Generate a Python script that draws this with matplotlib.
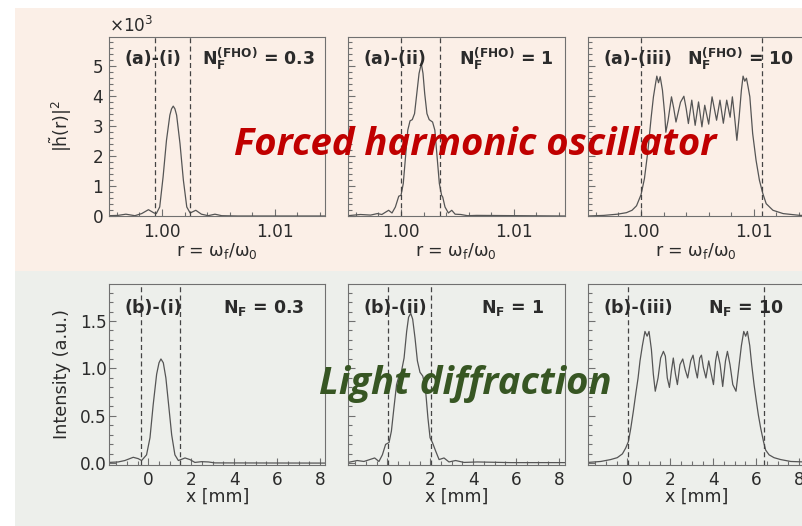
import matplotlib
matplotlib.use('Agg')
import matplotlib.pyplot as plt
from matplotlib.patches import Rectangle
from matplotlib.ticker import MultipleLocator, FormatStrFormatter

# Forced harmonic oscillator spectra |h(r)|^2 versus r = w_f / w_0
r_03 = [0.9953, 0.9961, 0.9968, 0.9976, 0.9982, 0.9988, 0.9993, 0.9995, 0.9998, 1.0001,
        1.0004, 1.0007, 1.00085, 1.0010, 1.00115, 1.0013, 1.0016, 1.0019, 1.0022, 1.0025,
        1.0030, 1.0035, 1.0041, 1.0047, 1.0053, 1.0067, 1.0145]
h_03 = [20, 30, 70, 20, 90, 220, 110, 90, 310, 1310,
        2530, 3370, 3580, 3670, 3580, 3370, 2420, 1200, 310, 110,
        200, 70, 20, 70, 20, 10, 10]

r_1 = [0.9953, 0.9964, 0.9973, 0.9979, 0.9983, 0.9989, 0.9992, 0.9995, 0.9998, 1.0000,
       1.0002, 1.0004, 1.0006, 1.0008, 1.0010, 1.0012, 1.0014, 1.0016, 1.0018, 1.00195,
       1.0021, 1.0023, 1.0025, 1.0028, 1.0030, 1.0032, 1.0034, 1.0036, 1.0037, 1.0039,
       1.0042, 1.0045, 1.0048, 1.0053, 1.0059, 1.0067, 1.0145]
h_1 = [20, 60, 40, 90, 60, 200, 110, 310, 670, 700,
       1090, 1980, 2870, 3180, 3220, 3420, 4090, 4760, 5090, 4760,
       4090, 3420, 3220, 3140, 2870, 1980, 1090, 700, 640, 310,
       110, 200, 70, 60, 20, 30, 10]

r_10 = [0.9953, 0.9967, 0.9979, 0.9987, 0.9992, 0.9996, 1.0000, 1.0003, 1.0006, 1.0009,
        1.0011, 1.0013, 1.0014, 1.00155, 1.0017, 1.0019, 1.0021, 1.0022, 1.0024, 1.0027,
        1.0029, 1.0031, 1.0035, 1.0038, 1.0040, 1.0042, 1.0045, 1.0048, 1.0051, 1.0054,
        1.00565, 1.0060, 1.0063, 1.0067, 1.0070, 1.0073, 1.0076, 1.0079, 1.0081, 1.0083,
        1.0085, 1.0087, 1.0089, 1.00905, 1.0092, 1.00935, 1.0095, 1.00965, 1.0099, 1.0102,
        1.0105, 1.0108, 1.0111, 1.0117, 1.0126, 1.0141, 1.0145]
h_10 = [10, 30, 70, 120, 200, 350, 720, 1250, 2150, 3300,
        3980, 4450, 4670, 4450, 4650, 4200, 3400, 2800, 3200, 3980,
        3600, 3140, 3800, 4000, 3600, 3090, 3870, 3030, 3810, 2980,
        3700, 3070, 3980, 3200, 3870, 3100, 3870, 3300, 3980, 3300,
        2530, 3300, 4200, 4670, 4500, 4600, 4300, 3980, 2760, 1870,
        1200, 760, 420, 200, 90, 30, 30]

# Light diffraction intensity versus x [mm]
x_03 = [-1.83, -1.40, -1.09, -0.70, -0.47, -0.31, -0.08, 0.08, 0.23, 0.39,
        0.50, 0.59, 0.70, 0.82, 0.96, 1.09, 1.24, 1.40, 1.52, 1.71,
        1.94, 2.17, 2.48, 2.80, 3.10, 8.25]
I_03 = [0.010, 0.015, 0.030, 0.064, 0.050, 0.030, 0.090, 0.270, 0.620, 0.940,
        1.060, 1.100, 1.060, 0.900, 0.590, 0.300, 0.090, 0.030, 0.040, 0.057,
        0.040, 0.010, 0.018, 0.015, 0.005, 0.003]

x_1 = [-1.83, -1.40, -1.09, -0.59, -0.39, -0.23, -0.08, 0.08, 0.19, 0.31,
       0.43, 0.54, 0.65, 0.78, 0.90, 0.99, 1.09, 1.18, 1.29, 1.40,
       1.52, 1.65, 1.77, 1.89, 1.99, 2.10, 2.25, 2.41, 2.64, 2.87,
       3.18, 3.57, 4.19, 5.75, 8.25]
I_1 = [0.010, 0.030, 0.020, 0.057, 0.020, 0.090, 0.200, 0.220, 0.340, 0.590,
       0.830, 0.920, 0.960, 1.110, 1.390, 1.540, 1.580, 1.520, 1.320, 1.080,
       0.960, 0.920, 0.800, 0.480, 0.270, 0.220, 0.130, 0.040, 0.057, 0.015,
       0.030, 0.010, 0.015, 0.008, 0.008]

x_10 = [-1.83, -1.24, -0.78, -0.47, -0.23, -0.08, 0.05, 0.16, 0.28, 0.39,
        0.50, 0.59, 0.70, 0.82, 0.92, 1.01, 1.12, 1.21, 1.30, 1.43,
        1.55, 1.68, 1.77, 1.86, 1.96, 2.05, 2.14, 2.24, 2.33, 2.45,
        2.58, 2.69, 2.81, 2.95, 3.06, 3.17, 3.26, 3.37, 3.45, 3.54,
        3.66, 3.79, 3.91, 4.01, 4.11, 4.19, 4.32, 4.44, 4.57, 4.66,
        4.78, 4.91, 5.06, 5.19, 5.31, 5.42, 5.51, 5.59, 5.70, 5.79,
        5.90, 6.01, 6.10, 6.21, 6.34, 6.44, 6.60, 6.83, 7.14, 7.61, 8.25]
I_10 = [0.010, 0.020, 0.040, 0.060, 0.100, 0.160, 0.230, 0.370, 0.550, 0.730,
        0.900, 1.080, 1.240, 1.390, 1.340, 1.390, 1.200, 0.940, 0.760, 0.900,
        1.110, 1.180, 1.130, 0.900, 0.800, 0.970, 1.110, 0.940, 0.830, 1.040,
        1.100, 0.990, 0.900, 1.080, 1.140, 0.990, 0.900, 1.110, 1.140, 1.010,
        0.900, 1.080, 0.940, 0.830, 1.080, 1.180, 1.040, 0.810, 1.080, 1.180,
        1.040, 0.830, 0.760, 1.010, 1.240, 1.390, 1.340, 1.390, 1.240, 1.040,
        0.830, 0.650, 0.510, 0.370, 0.230, 0.140, 0.090, 0.060, 0.040, 0.020, 0.015]

# dashed band edges and panel annotations
fho_bands = [(0.9994, 1.0025), (1.0000, 1.0035), (1.0000, 1.0107)]
light_bands = [(-0.35, 1.47), (0.05, 2.05), (0.05, 6.35)]
roman = ['i', 'ii', 'iii']
nf_labels = ['0.3', '1', '10']

fho_curves = [(r_03, h_03), (r_1, h_1), (r_10, h_10)]
light_curves = [(x_03, I_03), (x_1, I_1), (x_10, I_10)]

TXT = '#2b2b2b'
LINE = '#555555'
SPINE = '#707070'

fig = plt.figure(figsize=(8.03, 5.26), dpi=100)
fig.patches.append(Rectangle((15 / 803, 255 / 526), 1, 263 / 526, transform=fig.transFigure,
                             facecolor='#fbefe7', edgecolor='none', zorder=-10))
fig.patches.append(Rectangle((15 / 803, 0), 1, 255 / 526, transform=fig.transFigure,
                             facecolor='#edefeb', edgecolor='none', zorder=-10))

lefts = [0.1357, 0.4334, 0.7323]
width = 0.2696


def style_axes(ax):
    ax.set_facecolor('none')
    for sp in ax.spines.values():
        sp.set_color(SPINE)
        sp.set_linewidth(0.8)
    ax.tick_params(which='both', direction='in', top=False, right=False,
                   color=SPINE, labelcolor=TXT, labelsize=12.2, width=0.8)
    ax.tick_params(which='major', length=5)
    ax.tick_params(which='minor', length=2.8)


for i in range(3):
    # top row: forced harmonic oscillator
    ax = fig.add_axes([lefts[i], 0.5888, width, 0.3418])
    style_axes(ax)
    r, h = fho_curves[i]
    ax.plot(r, h, color=LINE, lw=0.9)
    for edge in fho_bands[i]:
        ax.axvline(edge, color='#444444', lw=0.9, dashes=(4, 2.6))
    ax.set_xlim(0.9953, 1.0145)
    ax.set_ylim(0, 5990)
    ax.xaxis.set_major_locator(MultipleLocator(0.01))
    ax.xaxis.set_minor_locator(MultipleLocator(0.002))
    ax.xaxis.set_major_formatter(FormatStrFormatter('%.2f'))
    ax.yaxis.set_major_locator(MultipleLocator(1000))
    ax.yaxis.set_minor_locator(MultipleLocator(200))
    ax.tick_params(axis='x', pad=5)
    ax.set_xlabel(r'r = $\mathrm{\omega}_{\rm f}/\mathrm{\omega}_0$', fontsize=12.5,
                  color=TXT, labelpad=0)
    if i == 0:
        ax.ticklabel_format(axis='y', style='sci', scilimits=(3, 3), useMathText=True)
        ax.yaxis.get_offset_text().set_fontsize(12.2)
        ax.yaxis.get_offset_text().set_color(TXT)
        ax.set_ylabel(r'$|\tilde{\rm h}({\rm r})|^2$', fontsize=12.5, color=TXT)
        ax.yaxis.set_label_coords(-0.16, 0.5)
        ax.tick_params(axis='y', pad=4)
    else:
        ax.tick_params(axis='y', labelleft=False)
    ax.text(0.072, 0.845, '(a)-(%s)' % roman[i], transform=ax.transAxes,
            fontsize=12.5, fontweight='bold', color=TXT, va='baseline', ha='left')
    ax.text(0.952, 0.845, r'$\mathbf{N_F^{(FHO)}}$ = ' + nf_labels[i], transform=ax.transAxes,
            fontsize=12.5, fontweight='bold', color=TXT, va='baseline', ha='right')

    # bottom row: light diffraction
    ax = fig.add_axes([lefts[i], 0.1169, width, 0.3432])
    style_axes(ax)
    x, inten = light_curves[i]
    ax.plot(x, inten, color=LINE, lw=0.9)
    for edge in light_bands[i]:
        ax.axvline(edge, color='#444444', lw=0.9, dashes=(4, 2.6))
    ax.set_xlim(-1.83, 8.25)
    ax.set_ylim(-0.012, 1.89)
    ax.xaxis.set_major_locator(MultipleLocator(2))
    ax.xaxis.set_minor_locator(MultipleLocator(0.5))
    ax.yaxis.set_major_locator(MultipleLocator(0.5))
    ax.yaxis.set_minor_locator(MultipleLocator(0.1))
    ax.yaxis.set_major_formatter(FormatStrFormatter('%.1f'))
    ax.tick_params(axis='x', pad=5)
    ax.set_xlabel('x [mm]', fontsize=12.5, color=TXT, labelpad=-1)
    if i == 0:
        ax.set_ylabel('Intensity (a.u.)', fontsize=12.8, color=TXT)
        ax.yaxis.set_label_coords(-0.175, 0.5)
        ax.tick_params(axis='y', pad=1.5)
    else:
        ax.tick_params(axis='y', labelleft=False)
    ax.text(0.072, 0.838, '(b)-(%s)' % roman[i], transform=ax.transAxes,
            fontsize=12.5, fontweight='bold', color=TXT, va='baseline', ha='left')
    ax.text(0.905, 0.838, r'$\mathbf{N_F}$ = ' + nf_labels[i], transform=ax.transAxes,
            fontsize=12.5, fontweight='bold', color=TXT, va='baseline', ha='right')

fig.text(0.5915, 0.7053, 'Forced harmonic oscillator', fontsize=27.5, family='Open Sans',
         weight='bold', style='italic', color='#c00000', ha='center', va='baseline')
fig.text(0.579, 0.251, 'Light diffraction', fontsize=27.5, family='Open Sans',
         weight='bold', style='italic', color='#375623', ha='center', va='baseline')

fig.savefig('out.png', dpi=100)
